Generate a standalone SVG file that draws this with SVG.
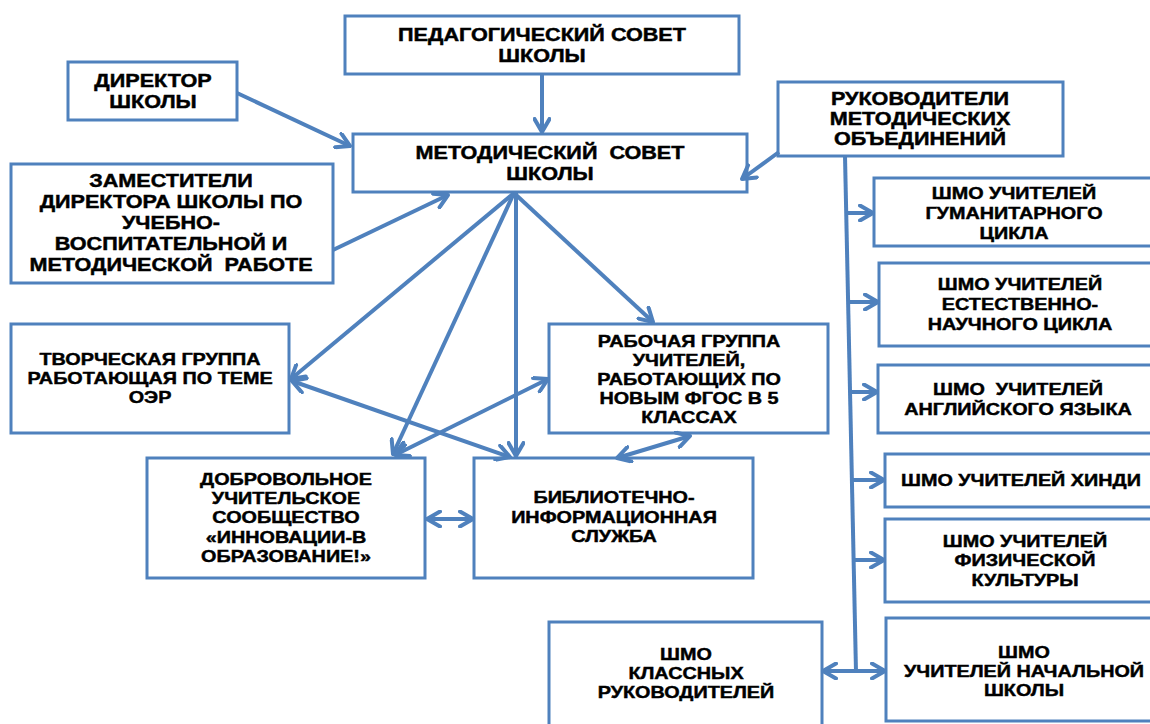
<svg xmlns="http://www.w3.org/2000/svg" width="1150" height="724" viewBox="0 0 1150 724">
<style>
.b{fill:#fff;stroke:#4f81bd;stroke-width:3}
.t text{font-family:"Liberation Sans",Arial,sans-serif;font-weight:bold;fill:#000;stroke:#000;stroke-width:0.45px;text-anchor:middle;font-size:16.5px}
.L text{font-size:18px}
.c line{stroke:#4f81bd;stroke-width:4;fill:none}
</style>
<defs>
<marker id="a" viewBox="0 0 18 18" refX="15" refY="9" markerWidth="18" markerHeight="18" markerUnits="userSpaceOnUse" orient="auto-start-reverse">
<path d="M2,1.5 L15,9 L2,16.5" fill="none" stroke="#4f81bd" stroke-width="4" stroke-linecap="round" stroke-linejoin="round"/>
</marker>
</defs>
<rect width="1150" height="724" fill="#fff"/>

<g id="n-ped">
<rect class="b" x="345" y="16" width="394" height="58"/>
<g class="t L" transform="translate(542,0) scale(1.2,1)">
<text x="0" y="41">ПЕДАГОГИЧЕСКИЙ СОВЕТ</text>
<text x="0" y="62">ШКОЛЫ</text>
</g>
</g>
<g id="n-dir">
<rect class="b" x="68" y="62" width="169" height="58"/>
<g class="t L" transform="translate(153,0) scale(1.2,1)">
<text x="0" y="87">ДИРЕКТОР</text>
<text x="0" y="108">ШКОЛЫ</text>
</g>
</g>
<g id="n-met">
<rect class="b" x="353" y="134" width="394" height="58"/>
<g class="t L" transform="translate(550,0) scale(1.2,1)">
<text x="0" y="159" xml:space="preserve">МЕТОДИЧЕСКИЙ  СОВЕТ</text>
<text x="0" y="180">ШКОЛЫ</text>
</g>
</g>
<g id="n-zam">
<rect class="b" x="11" y="164" width="322" height="119"/>
<g class="t L" transform="translate(171,0) scale(1.2,1)">
<text x="0" y="187">ЗАМЕСТИТЕЛИ</text>
<text x="0" y="208">ДИРЕКТОРА ШКОЛЫ ПО</text>
<text x="0" y="229">УЧЕБНО-</text>
<text x="0" y="250">ВОСПИТАТЕЛЬНОЙ И</text>
<text x="0" y="271" xml:space="preserve">МЕТОДИЧЕСКОЙ  РАБОТЕ</text>
</g>
</g>
<g id="n-ruk">
<rect class="b" x="778" y="82" width="285" height="74"/>
<g class="t L" transform="translate(920,0) scale(1.2,1)">
<text x="0" y="105">РУКОВОДИТЕЛИ</text>
<text x="0" y="125">МЕТОДИЧЕСКИХ</text>
<text x="0" y="145">ОБЪЕДИНЕНИЙ</text>
</g>
</g>
<g id="n-gum">
<rect class="b" x="874" y="178" width="290" height="68"/>
<g class="t" transform="translate(1014,0) scale(1.2,1)">
<text x="0" y="199">ШМО УЧИТЕЛЕЙ</text>
<text x="0" y="219">ГУМАНИТАРНОГО</text>
<text x="0" y="239">ЦИКЛА</text>
</g>
</g>
<g id="n-est">
<rect class="b" x="879" y="263" width="290" height="83"/>
<g class="t" transform="translate(1020,0) scale(1.2,1)">
<text x="0" y="290">ШМО УЧИТЕЛЕЙ</text>
<text x="0" y="310">ЕСТЕСТВЕННО-</text>
<text x="0" y="330">НАУЧНОГО ЦИКЛА</text>
</g>
</g>
<g id="n-eng">
<rect class="b" x="878" y="365" width="290" height="68"/>
<g class="t" transform="translate(1018,0) scale(1.2,1)">
<text x="0" y="395" xml:space="preserve">ШМО  УЧИТЕЛЕЙ</text>
<text x="0" y="415">АНГЛИЙСКОГО ЯЗЫКА</text>
</g>
</g>
<g id="n-hin">
<rect class="b" x="885" y="454" width="290" height="53"/>
<g class="t" transform="translate(901,0) scale(1.2,1)">
<text x="0" y="486" style="text-anchor:start">ШМО УЧИТЕЛЕЙ ХИНДИ</text>
</g>
</g>
<g id="n-fiz">
<rect class="b" x="885" y="519" width="290" height="83"/>
<g class="t" transform="translate(1025,0) scale(1.2,1)">
<text x="0" y="547">ШМО УЧИТЕЛЕЙ</text>
<text x="0" y="566">ФИЗИЧЕСКОЙ</text>
<text x="0" y="586">КУЛЬТУРЫ</text>
</g>
</g>
<g id="n-nach">
<rect class="b" x="886" y="618" width="290" height="103"/>
<g class="t" transform="translate(1024,0) scale(1.2,1)">
<text x="0" y="658">ШМО</text>
<text x="0" y="677">УЧИТЕЛЕЙ НАЧАЛЬНОЙ</text>
<text x="0" y="696">ШКОЛЫ</text>
</g>
</g>
<g id="n-kl">
<rect class="b" x="549" y="622" width="273" height="110"/>
<g class="t" transform="translate(686,0) scale(1.2,1)">
<text x="0" y="660">ШМО</text>
<text x="0" y="679">КЛАССНЫХ</text>
<text x="0" y="698">РУКОВОДИТЕЛЕЙ</text>
</g>
</g>
<g id="n-tvor">
<rect class="b" x="11" y="324" width="278" height="109"/>
<g class="t" transform="translate(150,0) scale(1.2,1)">
<text x="0" y="365">ТВОРЧЕСКАЯ ГРУППА</text>
<text x="0" y="384">РАБОТАЮЩАЯ ПО ТЕМЕ</text>
<text x="0" y="403">ОЭР</text>
</g>
</g>
<g id="n-rab">
<rect class="b" x="549" y="324" width="279" height="109"/>
<g class="t" transform="translate(689,0) scale(1.2,1)">
<text x="0" y="347">РАБОЧАЯ ГРУППА</text>
<text x="0" y="366">УЧИТЕЛЕЙ,</text>
<text x="0" y="385">РАБОТАЮЩИХ ПО</text>
<text x="0" y="404">НОВЫМ ФГОС В 5</text>
<text x="0" y="423">КЛАССАХ</text>
</g>
</g>
<g id="n-dobr">
<rect class="b" x="147" y="458" width="278" height="120"/>
<g class="t" transform="translate(286,0) scale(1.2,1)">
<text x="0" y="485">ДОБРОВОЛЬНОЕ</text>
<text x="0" y="504">УЧИТЕЛЬСКОЕ</text>
<text x="0" y="523">СООБЩЕСТВО</text>
<text x="0" y="543">«ИННОВАЦИИ-В</text>
<text x="0" y="562">ОБРАЗОВАНИЕ!»</text>
</g>
</g>
<g id="n-bib">
<rect class="b" x="474" y="458" width="279" height="120"/>
<g class="t" transform="translate(614,0) scale(1.2,1)">
<text x="0" y="503">БИБЛИОТЕЧНО-</text>
<text x="0" y="523">ИНФОРМАЦИОННАЯ</text>
<text x="0" y="542">СЛУЖБА</text>
</g>
</g>

<g id="connectors" class="c">
<line x1="542" y1="75" x2="542" y2="132" marker-end="url(#a)"/>
<line x1="237" y1="93" x2="350" y2="146" marker-end="url(#a)"/>
<line x1="333" y1="250" x2="448" y2="195" marker-end="url(#a)"/>
<line x1="779" y1="152" x2="742" y2="179" marker-end="url(#a)"/>
<line x1="514" y1="193" x2="291" y2="379" marker-end="url(#a)"/>
<line x1="514" y1="193" x2="393" y2="454" marker-end="url(#a)"/>
<line x1="516" y1="193" x2="516" y2="456" marker-end="url(#a)"/>
<line x1="514" y1="193" x2="653" y2="322" marker-end="url(#a)"/>
<line x1="292" y1="381" x2="510" y2="457" marker-start="url(#a)" marker-end="url(#a)"/>
<line x1="395" y1="455" x2="548" y2="379" marker-start="url(#a)" marker-end="url(#a)"/>
<line x1="690" y1="436" x2="617" y2="458" marker-start="url(#a)" marker-end="url(#a)"/>
<line x1="427" y1="519" x2="473" y2="519" marker-start="url(#a)" marker-end="url(#a)"/>
<line x1="845" y1="156" x2="856" y2="672"/>
<line x1="847" y1="213" x2="873" y2="213" marker-end="url(#a)"/>
<line x1="849" y1="302" x2="878" y2="302" marker-end="url(#a)"/>
<line x1="851" y1="392" x2="877" y2="392" marker-end="url(#a)"/>
<line x1="853" y1="480" x2="884" y2="480" marker-end="url(#a)"/>
<line x1="854" y1="560" x2="884" y2="560" marker-end="url(#a)"/>
<line x1="856" y1="671" x2="885" y2="671" marker-end="url(#a)"/>
<line x1="856" y1="671" x2="823" y2="671" marker-end="url(#a)"/>
</g>
</svg>
